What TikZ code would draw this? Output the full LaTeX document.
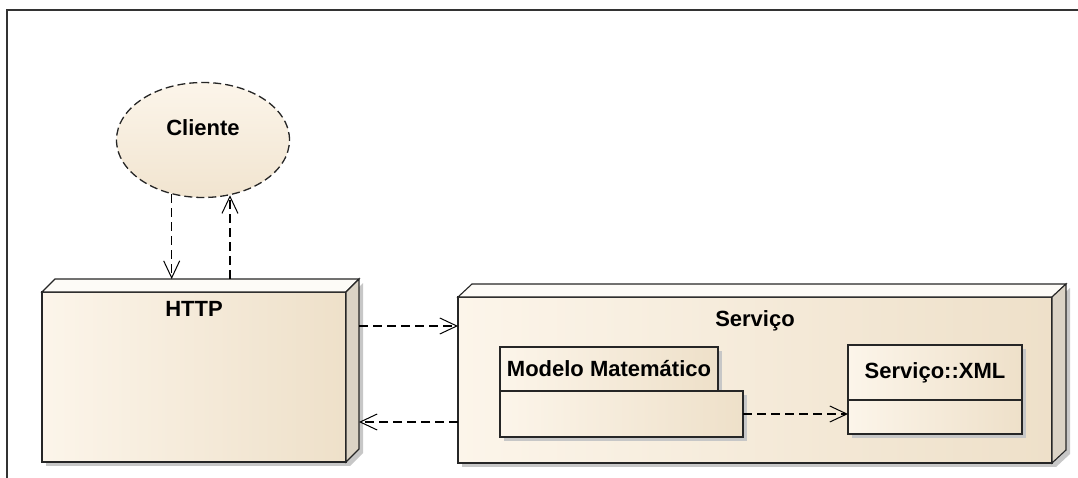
\documentclass[tikz,border=0pt]{standalone}
\usepackage{fontspec}
\setmainfont{Liberation Sans}
\usetikzlibrary{arrows.meta,shapes.geometric,shadows}

\definecolor{nodelight}{RGB}{252,245,234}
\definecolor{nodedark}{RGB}{238,224,201}
\definecolor{nodeside}{RGB}{219,211,197}
\definecolor{nodetop}{RGB}{253,251,247}

\tikzset{
  face/.style={draw=black!85, line width=1.1pt, outer sep=0pt,
    left color=nodelight, right color=nodedark,
    drop shadow={shadow xshift=4pt, shadow yshift=-4pt, opacity=1, fill=black!22}},
  topface/.style={draw=black!85, line width=1.1pt, fill=nodetop},
  sideface/.style={draw=black!85, line width=1.1pt, fill=nodeside,
    drop shadow={shadow xshift=4pt, shadow yshift=-4pt, opacity=1, fill=black!22}},
  dep/.style={line width=1.1pt, dash pattern=on 9pt off 5pt,
    -{Straight Barb[length=17pt,width=16pt,line width=1pt]}},
}

\begin{document}
\begin{tikzpicture}[x=1pt,y=-1pt,font=\fontsize{22}{26}\selectfont\bfseries]
\useasboundingbox (0,0) rectangle (1078,478);
\draw[line width=1.6pt, black!80] (7,478) -- (7,10) -- (1078,10);

% actor
\node (cli) at (203,140) [ellipse, minimum width=173pt, minimum height=115pt,
  draw=black!85, line width=1.3pt, dash pattern=on 8pt off 4pt,
  top color=nodelight, bottom color=nodedark!80!nodelight,
  label={[yshift=12pt]center:Cliente}] {};

% HTTP node
\node (http) at (194,377) [face, minimum width=304pt, minimum height=170pt,
  label={[anchor=north,yshift=-6pt]north:HTTP}] {};
\draw[topface] (http.north west) -- ++(13,-13) -- ([shift={(13,-13)}]http.north east) -- (http.north east) -- cycle;
\draw[sideface] (http.north east) -- ++(13,-13) -- ([shift={(13,-13)}]http.south east) -- (http.south east) -- cycle;
\coordinate (httpback) at ([shift={(13,-13)}]http.north west);
\coordinate (httpside) at ([xshift=13pt]http.east);

% Servico node
\node (srv) at (755,380) [face, minimum width=594pt, minimum height=166pt,
  label={[anchor=north,yshift=-10pt]north:Serviço}] {};
\draw[topface] (srv.north west) -- ++(14,-13) -- ([shift={(14,-13)}]srv.north east) -- (srv.north east) -- cycle;
\draw[sideface] (srv.north east) -- ++(14,-13) -- ([shift={(14,-13)}]srv.south east) -- (srv.south east) -- cycle;

% package
\node (mmtab) at (609,369) [face, minimum width=218pt, minimum height=44pt] {Modelo Matemático};
\node (mm) at (621.5,414) [face, minimum width=243pt, minimum height=46pt] {};

% class
\node (xml) at (935,372.5) [face, minimum width=174pt, minimum height=55pt] {Serviço::XML};
\node (xmlbody) at (935,417) [face, minimum width=174pt, minimum height=34pt] {};

\draw[dep] (cli.240) -- (cli.240 |- httpback);
\draw[dep] (cli.296 |- httpback) -- (cli.296);
\draw[dep] ([yshift=51pt]httpside) -- ([yshift=51pt]httpside -| srv.west);
\draw[dep] ([yshift=-42pt]srv.west) -- ([yshift=-42pt]srv.west -| httpside);
\draw[dep] (mm.east) -- (mm.east -| xmlbody.west);
\end{tikzpicture}
\end{document}
